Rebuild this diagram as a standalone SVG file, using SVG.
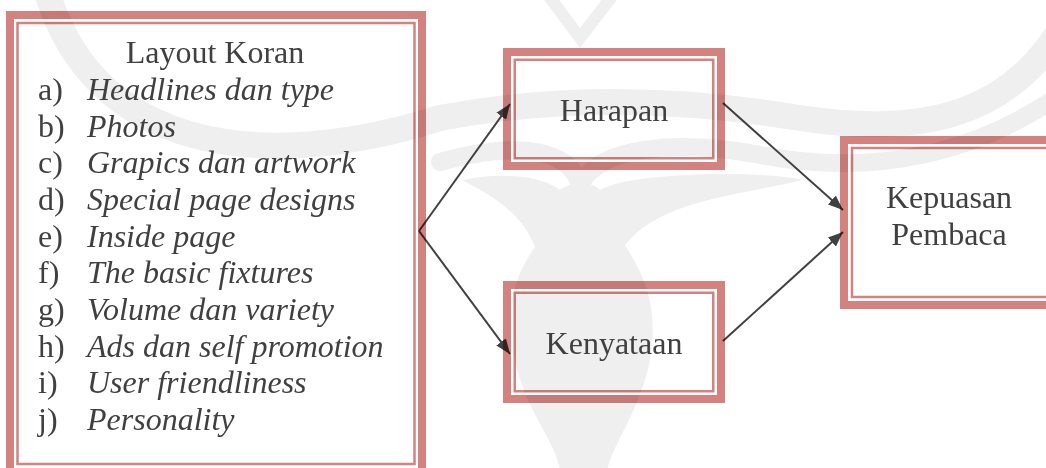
<svg xmlns="http://www.w3.org/2000/svg" width="1046" height="468" viewBox="0 0 1046 468">
<defs>
<style>
.wm{fill:none;stroke:#efefef;stroke-linecap:round}
.wmf{fill:#efefef}
.thick{fill:none;stroke:#d38280;stroke-width:8;mix-blend-mode:multiply}
.gap{fill:none;stroke:#ffffff;stroke-width:2.5}
.thin{fill:none;stroke:#d38280;stroke-width:2.5;mix-blend-mode:multiply}
.t{font-family:"Liberation Serif","Times New Roman",serif;font-size:32px;fill:#404040}
.i{font-style:italic}
.c{text-anchor:middle}
.conn{fill:none;stroke:#404040;stroke-width:2}
</style>
<marker id="arr" markerUnits="userSpaceOnUse" markerWidth="16" markerHeight="12" refX="15" refY="6" orient="auto">
<path d="M0,0 L15,6 L0,12 z" fill="#404040"/>
</marker>
</defs>
<rect width="1046" height="468" fill="#ffffff"/>
<g id="watermark">
<path class="wm" stroke-width="26" d="M45,-15 C90,150 260,175 440,118 C560,95 680,98 800,118 C930,138 1010,110 1060,30"/>
<path class="wm" stroke-width="18" d="M440,162 C520,140 570,150 580,185 C600,145 680,140 760,155 C880,178 980,150 1060,95"/>
<path class="wm" stroke-width="12" d="M548,-5 L580,38 L613,-5"/>
<path class="wmf" d="M462,180 C500,172 540,175 560,190 C570,182 590,180 600,190 C630,172 760,170 803,180 C740,195 660,200 625,245 C640,270 660,300 650,360 C640,410 615,440 607,470 L560,470 C555,440 525,410 515,360 C505,305 515,275 535,247 C520,210 490,195 462,180 Z"/>
</g>
<g id="connectors">
<path class="conn" d="M419,231 L510,104" marker-end="url(#arr)"/>
<path class="conn" d="M419,231 L510,354" marker-end="url(#arr)"/>
<path class="conn" d="M723,103 L843,210" marker-end="url(#arr)"/>
<path class="conn" d="M723,341 L843,232" marker-end="url(#arr)"/>
</g>
<g id="layout-koran">
<rect class="thick" x="10" y="15" width="412" height="460"/>
<rect class="gap" x="15.25" y="20.75" width="401.5" height="449"/>
<rect class="thin" x="17.5" y="23" width="397" height="441"/>
<text class="t c" x="215" y="63">Layout Koran</text>
<text class="t" x="38" y="100">a)</text><text class="t i" x="87" y="100">Headlines dan type</text>
<text class="t" x="38" y="136.7">b)</text><text class="t i" x="87" y="136.7">Photos</text>
<text class="t" x="38" y="173.3">c)</text><text class="t i" x="87" y="173.3">Grapics dan artwork</text>
<text class="t" x="38" y="210">d)</text><text class="t i" x="87" y="210">Special page designs</text>
<text class="t" x="38" y="246.7">e)</text><text class="t i" x="87" y="246.7">Inside page</text>
<text class="t" x="38" y="283.3">f)</text><text class="t i" x="87" y="283.3">The basic fixtures</text>
<text class="t" x="38" y="320">g)</text><text class="t i" x="87" y="320">Volume dan variety</text>
<text class="t" x="38" y="356.7">h)</text><text class="t i" x="87" y="356.7">Ads dan self promotion</text>
<text class="t" x="38" y="393.3">i)</text><text class="t i" x="87" y="393.3">User friendliness</text>
<text class="t" x="38" y="430">j)</text><text class="t i" x="87" y="430">Personality</text>
</g>
<g id="harapan">
<rect class="thick" x="507" y="52" width="214" height="114"/>
<rect class="gap" x="512.25" y="57.25" width="203.5" height="103.5"/>
<rect class="thin" x="514.75" y="59.75" width="198.5" height="98.5"/>
<text class="t c" x="614" y="120.5">Harapan</text>
</g>
<g id="kenyataan">
<rect class="thick" x="507" y="285" width="214" height="114"/>
<rect class="gap" x="512.25" y="290.25" width="203.5" height="103.5"/>
<rect class="thin" x="514.75" y="292.75" width="198.5" height="98.5"/>
<text class="t c" x="614" y="353.5">Kenyataan</text>
</g>
<g id="kepuasan">
<rect class="thick" x="844" y="140" width="220" height="165"/>
<rect class="gap" x="849.25" y="145.25" width="210" height="154.5"/>
<rect class="thin" x="852" y="148" width="205" height="149"/>
<text class="t c" x="949" y="208">Kepuasan</text>
<text class="t c" x="949" y="245">Pembaca</text>
</g>
</svg>
